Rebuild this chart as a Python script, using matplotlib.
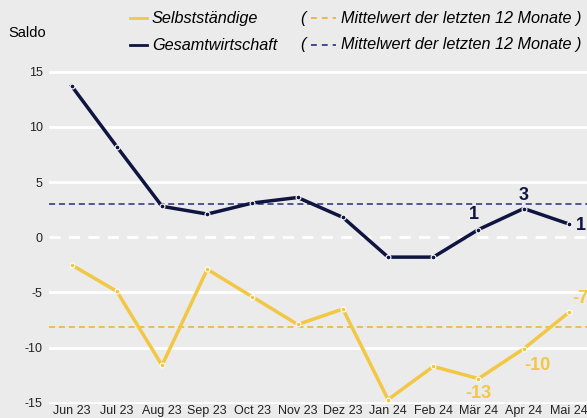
import matplotlib.pyplot as plt
from matplotlib.lines import Line2D

plt.rcParams['font.family'] = ['Liberation Sans', 'DejaVu Sans']

months = ['Jun 23', 'Jul 23', 'Aug 23', 'Sep 23', 'Oct 23', 'Nov 23', 'Dez 23',
          'Jan 24', 'Feb 24', 'Mär 24', 'Apr 24', 'Mai 24']
gesamt = [13.7, 8.2, 2.8, 2.1, 3.1, 3.6, 1.8, -1.8, -1.8, 0.7, 2.6, 1.2]
selbst = [-2.5, -4.9, -11.6, -2.9, -5.4, -7.9, -6.5, -14.7, -11.7, -12.8, -10.1, -6.8]
mean_gesamt = 3.0
mean_selbst = -8.1
yticks = [-15, -10, -5, 0, 5, 10, 15]

navy = '#0f1440'
navy_mean = '#26307a'
yellow = '#f2c744'
yellow_mean = '#efae30'
bg = '#ebebeb'

fig = plt.figure(figsize=(5.87, 4.18), dpi=100, facecolor=bg)
ax = fig.add_axes([49 / 587, (418 - 404) / 418, 1 - 49 / 587, (404 - 60) / 418])
ax.set_facecolor(bg)
x = list(range(len(months)))

for t in yticks:
    if t == 0:
        ax.axhline(t, color='white', lw=2, ls=(0, (4, 3)), zorder=1)
    else:
        ax.axhline(t, color='white', lw=2, zorder=1)

ax.axhline(mean_gesamt, color=navy_mean, lw=1.1, ls=(0, (4, 2.5)), zorder=2)
ax.axhline(mean_selbst, color=yellow_mean, lw=1.1, ls=(0, (4, 2.5)), zorder=2)

ax.plot(x, gesamt, color=navy, lw=2.5, marker='o', ms=3.5, mfc=navy, mec='white', mew=0.8, zorder=3)
ax.plot(x, selbst, color=yellow, lw=2.5, marker='o', ms=3.5, mfc=yellow, mec='white', mew=0.8, zorder=3)

# Beschriftungen der letzten Werte
ax.text(9, gesamt[9] + 0.6, '1', color=navy, fontsize=13, fontweight='bold', ha='right', va='bottom')
ax.text(10, gesamt[10] + 0.4, '3', color=navy, fontsize=13, fontweight='bold', ha='center', va='bottom')
ax.text(11.15, gesamt[11] - 0.1, '1', color=navy, fontsize=13, fontweight='bold', ha='left', va='center')
ax.text(9, selbst[9] - 0.6, '-13', color=yellow, fontsize=13, fontweight='bold', ha='center', va='top')
ax.text(10.3, selbst[10] - 0.7, '-10', color=yellow, fontsize=13, fontweight='bold', ha='center', va='top')
ax.text(11.25, selbst[11] + 0.5, '-7', color=yellow, fontsize=13, fontweight='bold', ha='center', va='bottom')

ax.set_xlim(-0.5, 11.4)
ax.set_ylim(-15.1, 16.05)
ax.set_yticks(yticks)
ax.set_yticklabels([str(t) for t in yticks])
ax.set_xticks(x)
ax.set_xticklabels(months)
ax.tick_params(length=0, labelsize=9, colors='#222222', pad=1)
ax.tick_params(axis='y', pad=4.5)
for s in ax.spines.values():
    s.set_visible(False)

# Kopfzeile / Legende
fig.text(8 / 587, 1 - 33 / 418, 'Saldo', fontsize=10.5, va='center', ha='left')
rows = [(18, yellow, yellow_mean, 'Selbstständige'), (45, navy, navy_mean, 'Gesamtwirtschaft')]
for yp, c, cm, lab in rows:
    yf = 1 - yp / 418
    fig.add_artist(Line2D([130 / 587, 147 / 587], [yf, yf], color=c, lw=2, transform=fig.transFigure))
    fig.text(152 / 587, yf, lab, fontsize=11.7, style='italic', va='center', ha='left')
    fig.text(300 / 587, yf, '(', fontsize=11.7, style='italic', va='center', ha='left')
    fig.add_artist(Line2D([311 / 587, 336 / 587], [yf, yf], color=cm, lw=1.2, ls=(0, (3.5, 3)),
                          transform=fig.transFigure))
    fig.text(341 / 587, yf, 'Mittelwert der letzten 12 Monate )', fontsize=11.7, style='italic',
             va='center', ha='left')

fig.savefig('out.png', dpi=100, facecolor=bg)
